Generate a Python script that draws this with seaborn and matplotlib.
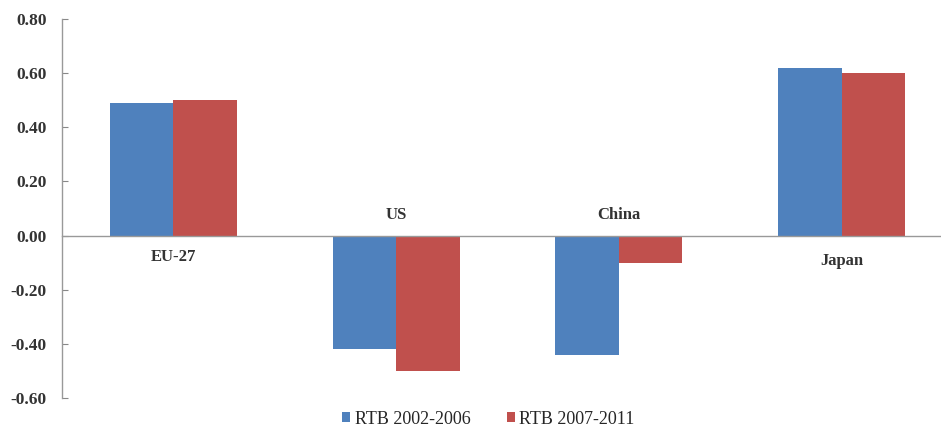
import numpy as np
import pandas as pd
import seaborn as sns
import matplotlib.pyplot as plt
from matplotlib.ticker import FixedLocator

# data
regions = ["EU-27", "US", "China", "Japan"]
series = ["RTB 2002-2006", "RTB 2007-2011"]
rtb_2002_2006 = [0.49, -0.42, -0.44, 0.62]
rtb_2007_2011 = [0.50, -0.50, -0.10, 0.60]
yticks = [-0.60, -0.40, -0.20, 0.00, 0.20, 0.40, 0.60, 0.80]
# label offset below/above the zero line for each region
label_y = [-0.08, 0.075, 0.075, -0.095]

df = pd.DataFrame({
    "region": regions * 2,
    "series": [series[0]] * 4 + [series[1]] * 4,
    "value": rtb_2002_2006 + rtb_2007_2011,
})

sns.set_style("white")
plt.rcParams["font.family"] = ["Liberation Serif", "DejaVu Serif"]

fig = plt.figure(figsize=(9.41, 4.30), dpi=100)
ax = fig.add_axes([62 / 941, 32 / 430, 891 / 941, 379 / 430])

sns.barplot(data=df, x="region", y="value", hue="series", order=regions,
            hue_order=series, palette=["#4F81BD", "#C0504D"],
            width=0.57, gap=0, saturation=1, edgecolor="none", ax=ax)

ax.set_xlim(-0.5, 3.5)
ax.set_ylim(-0.6, 0.8)
ax.set_yticks(yticks)
ax.set_yticklabels([f"{v:.2f}" for v in yticks], fontweight="bold", fontsize=12.5)
ax.set_xlabel("")
ax.set_ylabel("")
ax.set_xticks([])
ax.xaxis.set_minor_locator(FixedLocator([0.5, 1.5, 2.5]))
ax.tick_params(axis="x", which="minor", direction="in", length=3, width=0.8, color="#888888")
ax.tick_params(axis="y", direction="in", length=4, width=0.8, color="#888888", pad=11,
               left=True, colors="#333333")

for s in ["top", "right"]:
    ax.spines[s].set_visible(False)
ax.spines["bottom"].set_position(("data", 0))
for s in ["left", "bottom"]:
    ax.spines[s].set_color("#999999")
    ax.spines[s].set_linewidth(1.0)

for i, (name, ly) in enumerate(zip(regions, label_y)):
    ax.text(i, ly, name, ha="center", va="center", fontsize=12,
            fontweight="bold", color="#333333")

handles, labels = ax.get_legend_handles_labels()
ax.get_legend().remove()
fig.legend(handles, labels, loc="center", bbox_to_anchor=(0.519, 11 / 430),
           ncol=2, frameon=False, fontsize=13, handlelength=0.45,
           handleheight=0.45, handletextpad=0.25, columnspacing=2.0,
           borderpad=0)

fig.savefig("out.png", dpi=100)
